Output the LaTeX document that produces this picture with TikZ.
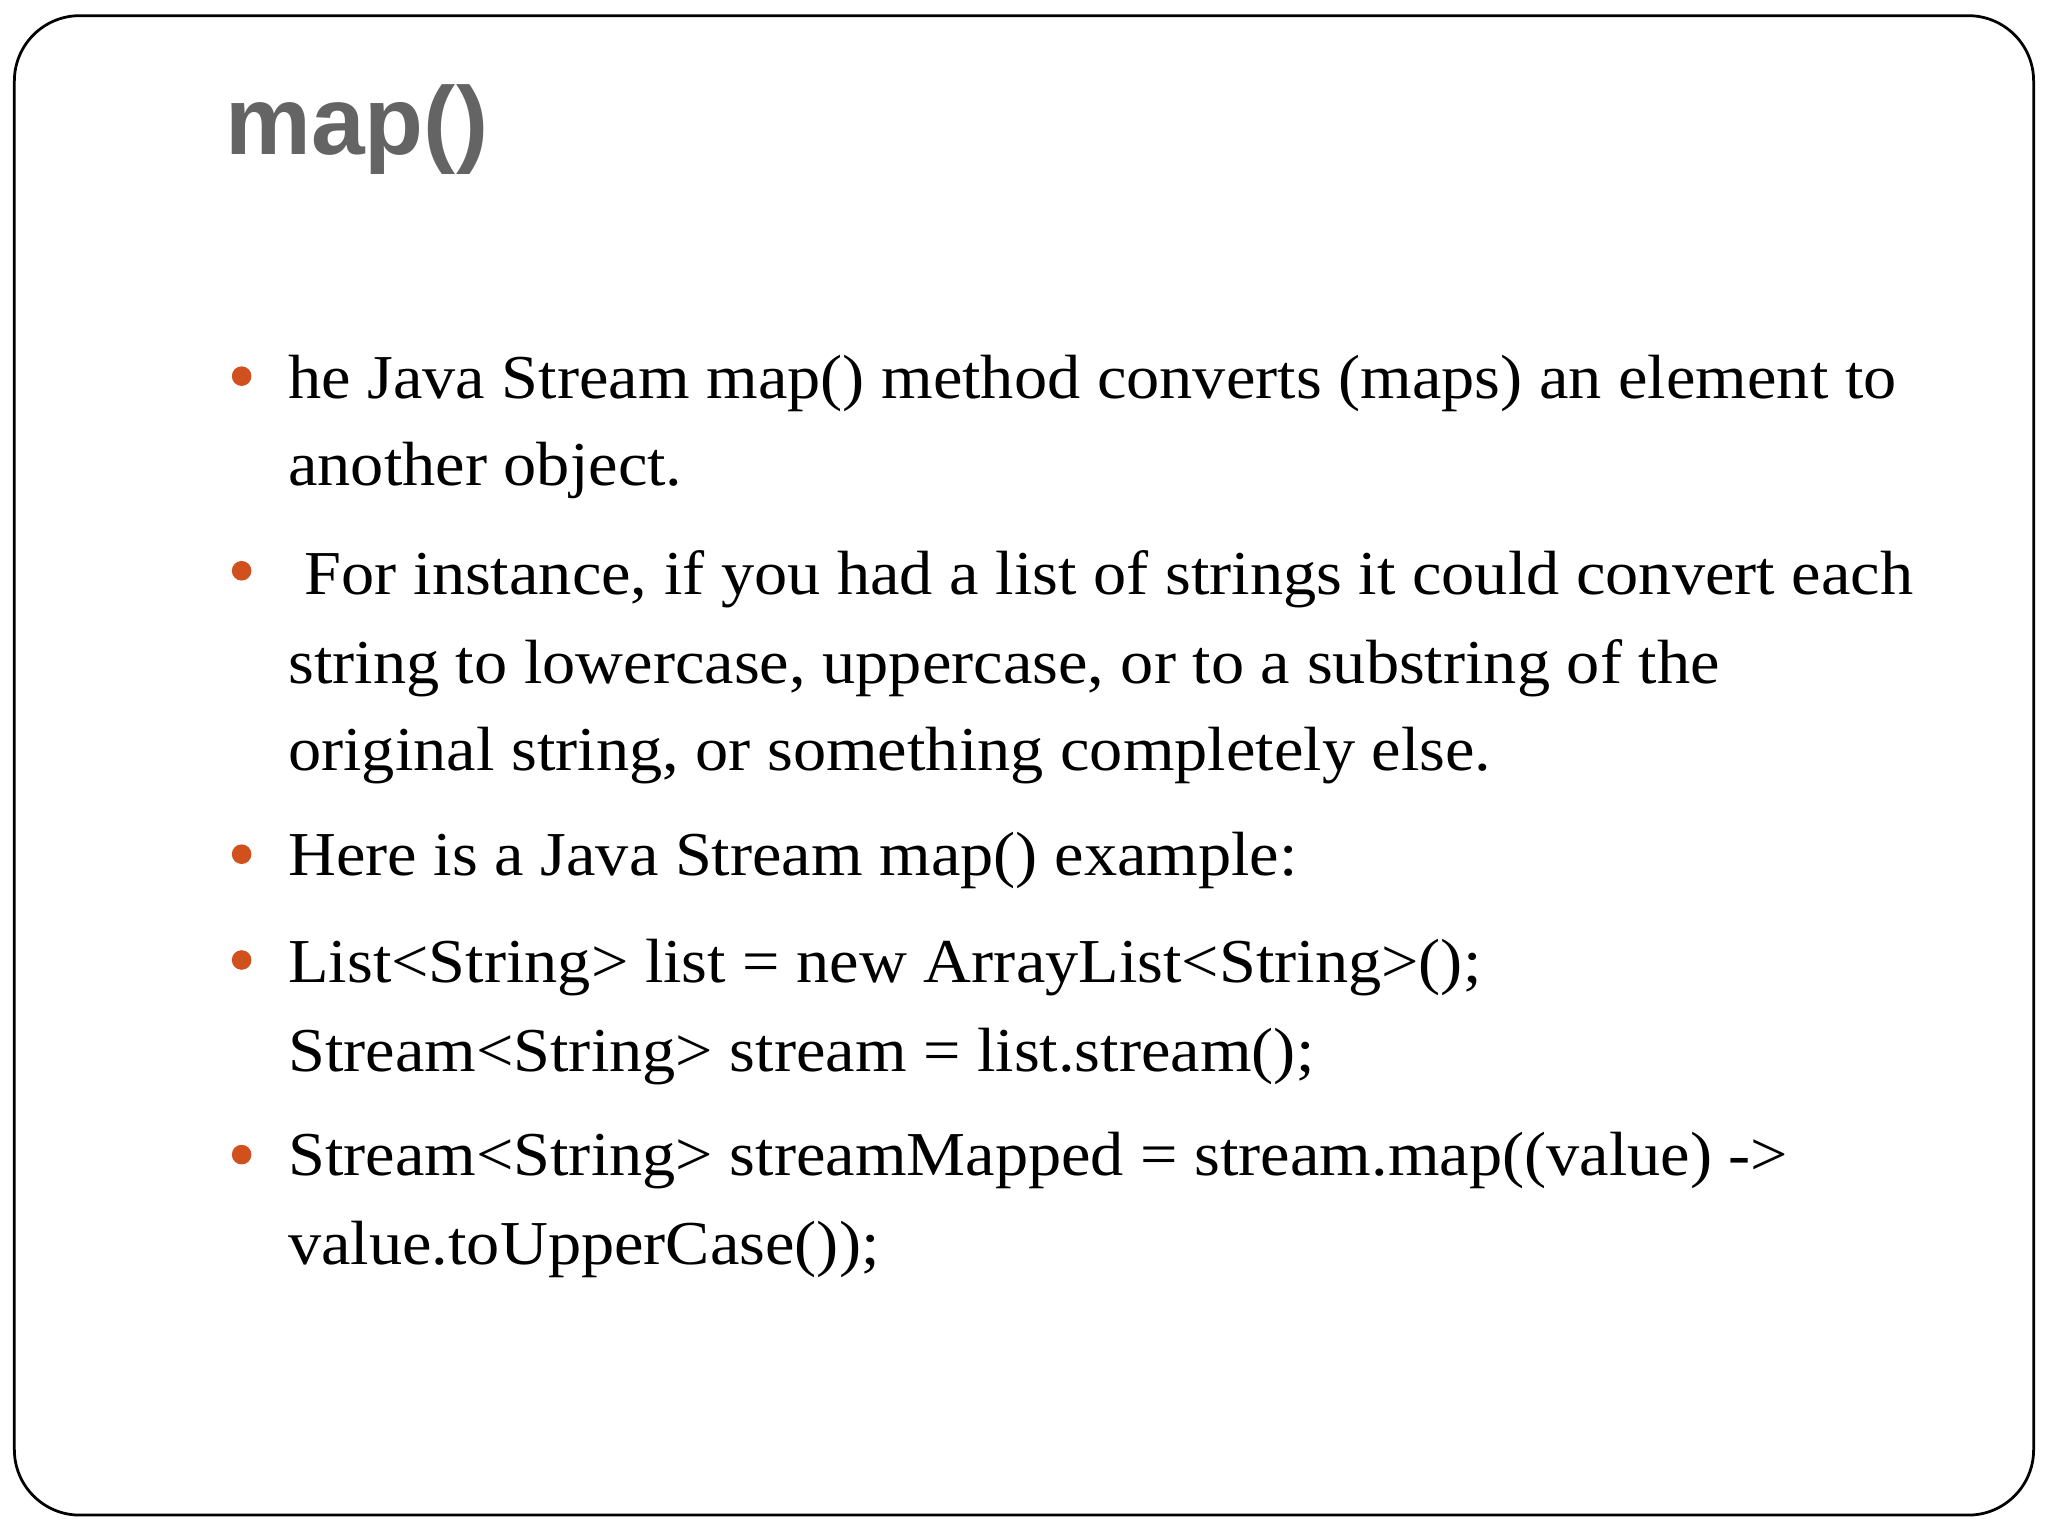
\documentclass[tikz,border=0pt]{standalone}
\usepackage{fontspec}
\setmainfont[FakeStretch=1.062]{Liberation Serif}
\newfontfamily\titlefont{Liberation Sans}
\definecolor{bul}{HTML}{D0501E}
\definecolor{ttl}{HTML}{646464}
\begin{document}
\begin{tikzpicture}[x=0.01cm,y=-0.01cm,
  line/.style={anchor=base west,inner sep=0pt,font=\fontsize{13.6pt}{16pt}\selectfont,text=black},
  dot/.style={circle,fill=bul,inner sep=0pt,minimum size=0.15cm}]
\useasboundingbox (0,0) rectangle (1568,1176);
\draw[rounded corners=0.5cm,line width=0.6pt] (11,12) rectangle (1557,1160);
\node[anchor=base west,inner sep=0pt,font=\titlefont\bfseries\fontsize{21pt}{24pt}\selectfont,text=ttl] (t) at (172,118) {map()};
\node[line] (l1) at (220,305) {he Java Stream map() method converts (maps) an element to};
\node[line] (l2) at (220,372) {another object.};
\node[line] (l3) at (220,455) {\ For instance, if you had a list of strings it could convert each};
\node[line] (l4) at (220,523) {string to lowercase, uppercase, or to a substring of the};
\node[line] (l5) at (220,590) {original string, or something completely else.};
\node[line] (l6) at (220,670) {Here is a Java Stream map() example:};
\node[line] (l7) at (220,752) {List<String> list = new ArrayList<String>();};
\node[line] (l8) at (220,820) {Stream<String> stream = list.stream();};
\node[line] (l9) at (220,900) {Stream<String> streamMapped = stream.map((value) ->};
\node[line] (l10) at (220,968) {value.toUpperCase());};
\foreach \y/\n in {288/a,437/b,654/c,735/d,884/e}
  \node[dot] (b\n) at (185,\y) {};
\end{tikzpicture}
\end{document}
